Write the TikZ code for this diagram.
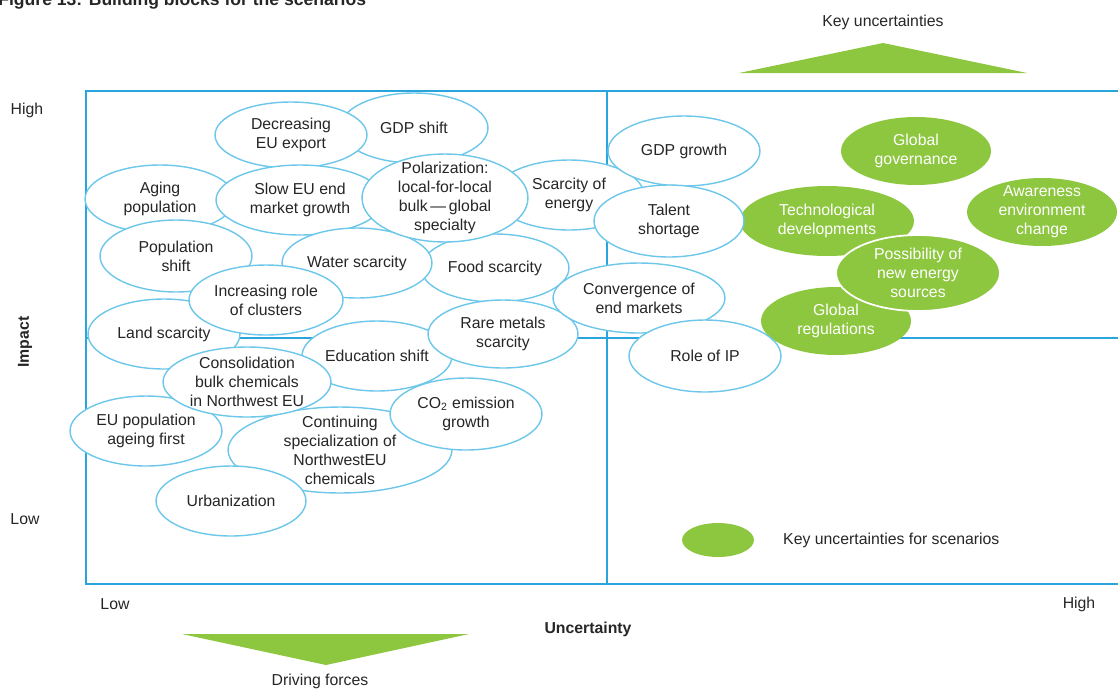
\documentclass[tikz,border=0pt]{standalone}
\usepackage{fontspec}
\setmainfont{Liberation Sans}
\usetikzlibrary{shapes.geometric}
\definecolor{frameblue}{HTML}{2AA4DC}
\definecolor{ellblue}{HTML}{6DC7EA}
\definecolor{kgreen}{HTML}{8DC63F}
\definecolor{txt}{HTML}{262626}
\begin{document}
\begin{tikzpicture}[x=0.02cm,y=-0.02cm,
  every node/.style={font=\fontsize{9}{10.8}\selectfont, text=txt},
  wel/.style 2 args={ellipse, draw=ellblue, fill=white, line width=0.8pt,
    minimum width=#1*0.04cm, minimum height=#2*0.04cm, inner sep=0pt},
  gel/.style 2 args={ellipse, fill=kgreen,
    minimum width=#1*0.04cm, minimum height=#2*0.04cm, inner sep=0pt},
  lbl/.style={align=center, inner sep=0pt},
  glbl/.style={lbl, text=white},
  axlbl/.style={font=\fontsize{9}{10.8}\selectfont\bfseries},
  frame/.style={draw=frameblue, line width=1.1pt}]
\useasboundingbox (0,0) rectangle (1118,690);
\clip (0,0) rectangle (1118,690);

% title (cut off at the top, as in the reference)
\node[anchor=base west, inner sep=0pt, font=\fontsize{10}{12}\selectfont\bfseries] (title) at (-2,5) {Figure 13: Building blocks for the scenarios};

% frame
\draw[frame] (1118,91) -- (86,91) -- (86,584) -- (1118,584);
\draw[frame] (607,91) -- (607,584);
\draw[frame] (86,338) -- (1118,338);

% triangles
\fill[kgreen] (739,73) -- (883,43) -- (1027,73) -- cycle;
\fill[kgreen] (182,634) -- (469,634) -- (326,665) -- cycle;
\node (keyunc) at (883,22) {Key uncertainties};
\node (driving) at (320,681) {Driving forces};

% axis labels
\node (yhigh) at (27,110) {High};
\node (ylow) at (25,519) {Low};
\node[axlbl, rotate=90] (impact) at (25,342) {Impact};
\node (xlow) at (115,604) {Low};
\node (xhigh) at (1079,604) {High};
\node[axlbl] (uncert) at (588,629) {Uncertainty};

% green key uncertainties
\node[gel={87}{35}] (tech) at (827,221) {};
\node[glbl] at (tech) {Technological\\developments};
\node[gel={75}{34}] (greg) at (836,321) {};
\node[glbl] at (greg) {Global\\regulations};
\node[gel={82}{38}, draw=white, line width=1pt] (poss) at (918,273) {};
\node[glbl] at (poss) {Possibility of\\new energy\\sources};
\node[gel={75}{34}] (gov) at (916,151) {};
\node[glbl] at (gov) {Global\\governance};
\node[gel={75}{34}] (aware) at (1042,212) {};
\node[glbl] at (aware) {Awareness\\environment\\change};

% white driving forces
\node[wel={74}{35}] (gdpshift) at (414,128) {};
\node[lbl] at (gdpshift) {GDP shift};
\node[wel={76}{33}] (decr) at (291,135) {};
\node[lbl] at (decr) {Decreasing\\EU export};
\node[wel={75}{34}] (aging) at (160,199) {};
\node[lbl] at (aging) {Aging\\population};
\node[wel={84}{35}] (slow) at (300,200) {};
\node[lbl] at (slow) {Slow EU end\\market growth};
\node[wel={75}{35}] (scen) at (569,195) {};
\node[lbl] at (scen) {Scarcity of\\energy};
\node[wel={74}{34}] (food) at (495,268) {};
\node[lbl] at (food) {Food scarcity};
\node[wel={75}{35}] (water) at (357,263) {};
\node[lbl] at (water) {Water scarcity};
\node[wel={83}{44}] (polar) at (445,198) {};
\node[lbl] at (polar) {Polarization:\\local-for-local\\bulk\,—\,global\\specialty};
\node[wel={76}{36}] (popshift) at (176,256) {};
\node[lbl] at (popshift) {Population\\shift};
\node[wel={76}{35}] (land) at (164,334) {};
\node[lbl] at (land) {Land scarcity};
\node[wel={77}{35}] (incr) at (266,300) {};
\node[lbl] at (incr) {Increasing role\\of clusters};
\node[wel={75}{35}] (educ) at (377,356) {};
\node[lbl] at (educ) {Education shift};
\node[wel={75}{34}] (rare) at (503,334) {};
\node[lbl] at (rare) {Rare metals\\scarcity};
\node[wel={86}{35}] (conv) at (639,298) {};
\node[lbl] at (conv) {Convergence of\\end markets};
\node[wel={76}{35}] (eupop) at (146,431) {};
\node[lbl] at (eupop) {EU population\\ageing first};
\node[wel={112}{43}] (cont) at (340,450) {};
\node[lbl] at (cont) {Continuing\\specialization of\\NorthwestEU\\chemicals};
\node[wel={84}{35}] (consol) at (247,382) {};
\node[lbl] at (consol) {Consolidation\\bulk chemicals\\in Northwest EU};
\node[wel={76}{36}] (co2) at (466,414) {};
\node[lbl] at (co2) {CO\textsubscript{2} emission\\growth};
\node[wel={75}{35}] (urban) at (231,501) {};
\node[lbl] at (urban) {Urbanization};
\node[wel={76}{35}] (gdpg) at (684,151) {};
\node[lbl] at (gdpg) {GDP growth};
\node[wel={75}{36}] (talent) at (669,221) {};
\node[lbl] at (talent) {Talent\\shortage};
\node[wel={76}{36}] (roleip) at (705,356) {};
\node[lbl] at (roleip) {Role of IP};

% legend
\node[gel={36}{17}] (legend) at (718,540) {};
\node[anchor=west] (legendtxt) at (777,540) {Key uncertainties for scenarios};
\end{tikzpicture}
\end{document}
